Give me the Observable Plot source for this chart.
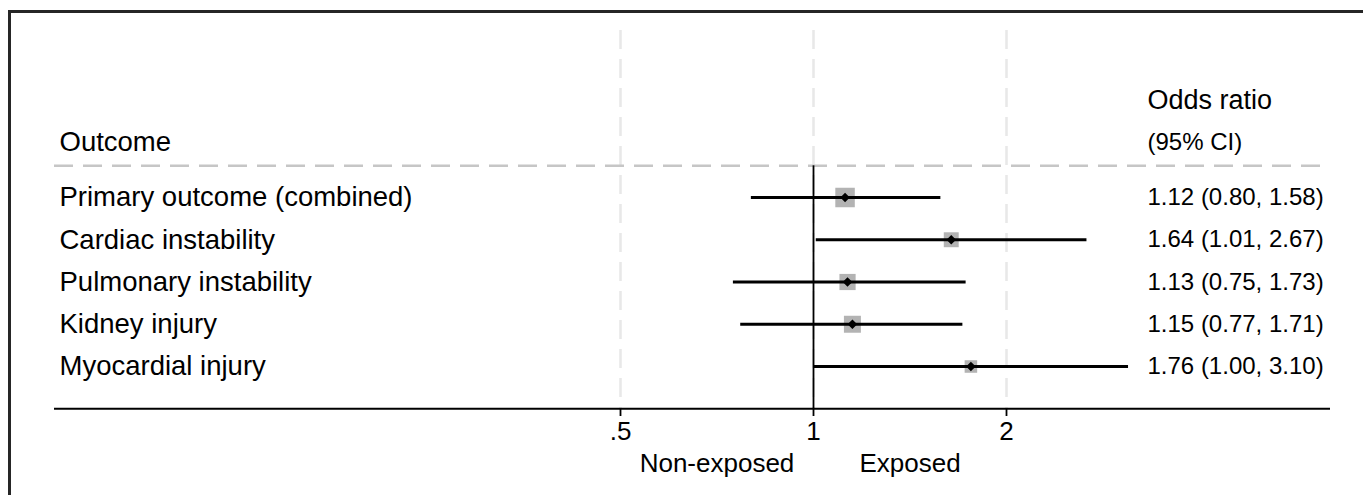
<!DOCTYPE html>
<html>
<head>
<meta charset="utf-8">
<script src="https://cdn.jsdelivr.net/npm/d3@7"></script>
<script src="https://cdn.jsdelivr.net/npm/@observablehq/plot@0.6"></script>
<style>
  html, body { margin: 0; padding: 0; background: #fff; overflow: hidden; }
  #wrap { position: relative; width: 1363px; height: 495px; overflow: hidden; }
  #frame { position: absolute; left: 8px; top: 10px; width: 1400px; height: 600px;
           border: 3px solid #262626; box-sizing: border-box; pointer-events: none; }
</style>
</head>
<body>
<div id="wrap"><div id="frame"></div></div>
<script>
const outcomes = ["Primary outcome (combined)", "Cardiac instability", "Pulmonary instability", "Kidney injury", "Myocardial injury"];
const oddsRatio = [1.12, 1.64, 1.13, 1.15, 1.76];
const ciLow = [0.80, 1.01, 0.75, 0.77, 1.00];
const ciHigh = [1.58, 2.67, 1.73, 1.71, 3.10];
const weights = [29, 17, 20, 22, 12];
const xTicks = [0.5, 1, 2];
const xTickLabels = [".5", "1", "2"];
const sideLabels = ["Non-exposed", "Exposed"];
const headerLeft = "Outcome";
const headerRight = ["Odds ratio", "(95% CI)"];

const fmt = d3.format(".2f");
const rows = outcomes.map((o, i) => ({
  outcome: o, row: i + 1, or: oddsRatio[i], lo: ciLow[i], hi: ciHigh[i], w: weights[i],
  label: `${fmt(oddsRatio[i])} (${fmt(ciLow[i])}, ${fmt(ciHigh[i])})`
}));
// side labels centred between neighbouring ticks (geometric mean)
const sideAt = [Math.sqrt(xTicks[0] * xTicks[1]), Math.sqrt(xTicks[1] * xTicks[2])];

const font = "'Liberation Sans', Arial, Helvetica, sans-serif";
const gridDash = "19,10";

const chart = Plot.plot({
  width: 1363,
  height: 495,
  marginLeft: 54,
  marginRight: 33,
  marginTop: 0,
  marginBottom: 87,
  x: { type: "log", domain: [0.5, 2], range: [620, 1006] },
  y: { domain: [0, 6], range: [154.75, 408.25], axis: null },
  r: { type: "sqrt", domain: [0, 29], range: [0, 11] },
  style: { fontFamily: font, background: "transparent", color: "#000" },
  marks: [
    // light dashed vertical grid lines
    Plot.ruleX(xTicks, { x: d => d, y1: () => -2.95, y2: () => 6, stroke: "#e8e8e8", strokeWidth: 2.5, strokeDasharray: gridDash }),
    // header separator
    Plot.ruleY([0.25], { y: d => d, stroke: "#c6c6c6", strokeWidth: 2.5, strokeDasharray: gridDash }),
    // null line
    Plot.ruleX([1], { x: d => d, y1: () => 0.25, y2: () => 6, stroke: "#000", strokeWidth: 1.8 }),
    // axis line
    Plot.ruleY([6], { y: d => d, stroke: "#000", strokeWidth: 2.2 }),
    // weight boxes
    Plot.dot(rows, { x: "or", y: "row", r: "w", symbol: "square", fill: "#b3b3b3", stroke: "none" }),
    // confidence intervals
    Plot.ruleY(rows, { y: "row", x1: "lo", x2: "hi", stroke: "#000", strokeWidth: 3 }),
    // point estimates
    Plot.dot(rows, { x: "or", y: "row", r: 4.3, symbol: "diamond2", fill: "#000", stroke: "none" }),
    // outcome labels
    Plot.text(rows, { y: "row", text: "outcome", frameAnchor: "left", dx: 5, textAnchor: "start", fontSize: 27.5, fill: "#000" }),
    // OR (95% CI) labels
    Plot.text(rows, { y: "row", text: "label", frameAnchor: "right", dx: -183, textAnchor: "start", fontSize: 24, fill: "#000" }),
    // headers
    Plot.text([headerLeft], { y: () => -0.3, text: d => d, frameAnchor: "left", dx: 5, textAnchor: "start", fontSize: 27.5, fill: "#000" }),
    Plot.text([headerRight[0]], { y: () => -1.3, text: d => d, frameAnchor: "right", dx: -183, textAnchor: "start", fontSize: 27, fill: "#000" }),
    Plot.text([headerRight[1]], { y: () => -0.3, text: d => d, frameAnchor: "right", dx: -183, textAnchor: "start", fontSize: 24, fill: "#000" }),
    // x axis
    Plot.axisX({ ticks: xTicks, tickFormat: d => xTickLabels[xTicks.indexOf(d)], tickSize: 8, tickPadding: 5, fontSize: 26, strokeWidth: 1.8, anchor: "bottom", label: null }),
    // side labels
    Plot.text(sideLabels, { x: (d, i) => sideAt[i], text: d => d, frameAnchor: "bottom", dy: 63, fontSize: 26, fill: "#000" })
  ]
});
document.getElementById("wrap").insertBefore(chart, document.getElementById("frame"));
</script>
</body>
</html>
